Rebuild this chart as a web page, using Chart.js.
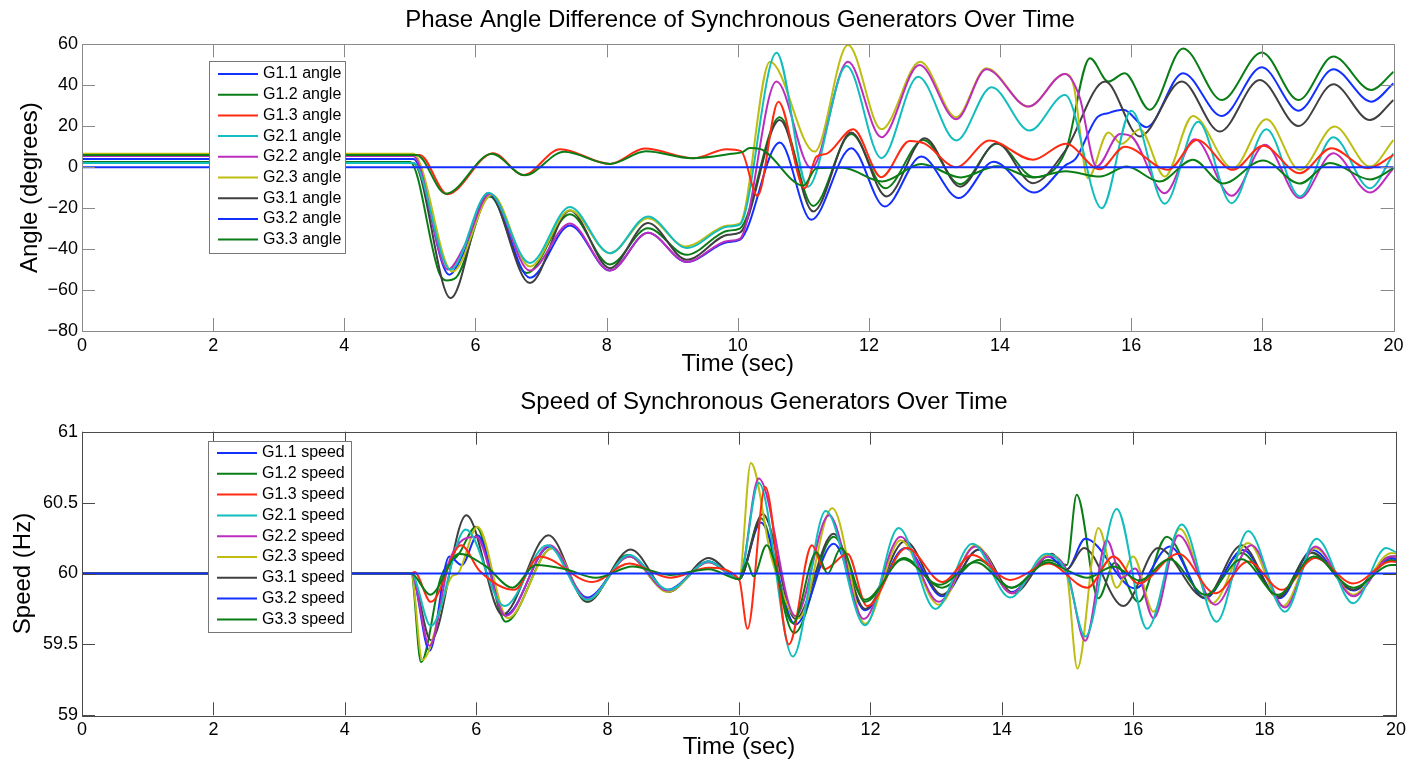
<!DOCTYPE html>
<html lang="en">
<head>
  <meta charset="UTF-8">
  <script src="https://cdn.jsdelivr.net/npm/chart.js"></script>
  <title>Synchronous generators</title>
  <style>
    html, body { margin: 0; padding: 0; background: #fff; overflow: hidden; }
    #angleChart { position: absolute; left: 0; top: 0; }
    #speedChart { position: absolute; left: 0; top: 380px; }
  </style>
</head>
<body>
  <canvas id="angleChart" width="1410" height="380"></canvas>
  <canvas id="speedChart" width="1410" height="385"></canvas>
  <script>
    // generator names (legend order)
    const generators = ['G1.1', 'G1.2', 'G1.3', 'G2.1', 'G2.2', 'G2.3', 'G3.1', 'G3.2', 'G3.3'];
    const xTicks = [0, 2, 4, 6, 8, 10, 12, 14, 16, 18, 20];
    const angleTicks = [-80, -60, -40, -20, 0, 20, 40, 60];
    const speedTicks = [59, 59.5, 60, 60.5, 61];

    // [time (s), angle (deg)]
    const g11Angle = [[0, 0], [20, 0]];
    const g12Angle = [[0, 6], [5.1, 6], [5.55, -13], [6.25, 6.5], [6.75, -4], [7.35, 7.5], [8.05, 1.6], [8.6, 7.8], [9.3, 4.4], [9.9, 6.5], [10.08, 7.5], [10.18, 9.4], [10.35, 8.8], [11.0, -9], [11.2, -0.5], [11.6, -0.3], [12.2, -7], [12.8, 1.5], [13.4, -5], [13.95, 0.5], [14.5, -5], [15.0, -2], [15.52, -4.6], [15.93, 0.3], [16.43, -7], [16.94, 3.6], [17.4, -8], [18.01, 3.3], [18.57, -8], [19.03, 2], [19.64, -6], [20, -0.5]];
    const g13Angle = [[0, 6], [5.15, 6], [5.57, -13.2], [6.27, 6.8], [6.73, -3.8], [7.29, 8.8], [8.05, 1.6], [8.58, 9.1], [9.33, 4.4], [9.83, 8.8], [10.05, 7.8], [10.3, -14], [10.62, 32], [11.02, -10.3], [11.2, 5.2], [11.35, 6.5], [11.76, 18.5], [12.19, -4.9], [12.62, 12.8], [12.85, 11.5], [13.33, 0], [13.84, 13], [14.5, 3.6], [15.0, 11.4], [15.52, -1], [15.9, 10], [16.56, -1.3], [17.0, 13.3], [17.55, -1.3], [18.01, 10.4], [18.57, -3], [19.05, 9.3], [19.61, -0.5], [20, 6]];
    const g21Angle = [[0, 2], [5.05, 2], [5.62, -50], [6.2, -12.5], [6.83, -46.8], [7.44, -19.5], [8.05, -42], [8.63, -24.1], [9.22, -39.5], [9.85, -29], [10.03, -28], [10.59, 55.9], [11.07, -9.5], [11.66, 49.4], [12.19, 4.4], [12.75, 44.2], [13.33, 13], [13.87, 39], [14.45, 17.9], [14.99, 35.2], [15.55, -20], [16.0, 27.6], [16.51, -17.9], [17.02, 22.2], [17.53, -17.6], [18.06, 18.5], [18.57, -14.3], [19.08, 14.6], [19.64, -10.3], [20, 6.8]];
    const g22Angle = [[0, 5.5], [5.05, 5.5], [5.58, -50], [5.84, -38], [6.22, -13], [6.83, -50.5], [7.44, -27.5], [8.05, -50.5], [8.63, -32], [9.22, -46.2], [9.85, -36], [10.03, -35], [10.59, 41.8], [11.12, -0.5], [11.68, 51.5], [12.19, 14.6], [12.77, 49.9], [13.33, 23.4], [13.79, 47.8], [14.43, 29.6], [14.99, 45.5], [15.21, 34.4], [15.47, 0.3], [15.83, 16.2], [16.0, 15], [16.51, -12.7], [16.97, 13.6], [17.53, -14], [18.04, 10.9], [18.57, -15.1], [19.08, 6.8], [19.64, -12.4], [20, -0.5]];
    const g23Angle = [[0, 6.5], [5.05, 6.5], [5.65, -51], [6.25, -13.5], [6.83, -48.5], [7.44, -21], [8.05, -42], [8.63, -25], [9.2, -38.7], [9.85, -28.5], [10.03, -27.5], [10.49, 51.5], [11.17, 7.6], [11.68, 59.7], [12.19, 18.5], [12.78, 51.5], [13.33, 24.4], [13.79, 48.3], [14.43, 29.6], [14.99, 45.5], [15.12, 40], [15.34, -5.4], [15.65, 16.9], [15.85, 11.4], [16.13, 18.5], [16.51, -4.6], [16.94, 25], [17.55, -0.5], [18.06, 23.4], [18.57, -1.3], [19.1, 19.8], [19.64, 0.3], [20, 13.3]];
    const g31Angle = [[0, 2], [5.05, 2], [5.62, -63.9], [6.19, -12.7], [6.83, -56.6], [7.44, -21.2], [8.05, -49.3], [8.63, -27.3], [9.22, -45.2], [9.85, -33], [10.03, -32], [10.64, 23], [11.15, -21.6], [11.73, 16.9], [12.27, -14.3], [12.85, 14.1], [13.39, -9.5], [13.95, 11.7], [14.5, -7.8], [15.0, 8.4], [15.6, 41.8], [16.13, 15], [16.77, 41.8], [17.35, 17.4], [17.96, 42.6], [18.55, 20.1], [19.08, 40.5], [19.64, 23], [20, 32.8]];
    const g32Angle = [[0, 4], [5.05, 4], [5.6, -52.5], [5.82, -42], [6.22, -14], [6.83, -54], [7.44, -28.5], [8.05, -50.5], [8.63, -32], [9.22, -46.3], [9.85, -36.5], [10.03, -35.5], [10.64, 12], [11.12, -25.7], [11.73, 9.3], [12.24, -19.2], [12.8, 5.2], [13.37, -15.1], [13.9, 2.7], [14.52, -12.4], [15.0, 1], [15.15, 4], [15.47, 23.9], [15.65, 26.4], [15.88, 28], [16.23, 19.5], [16.79, 45.9], [17.38, 25], [17.99, 48.8], [18.55, 27.6], [19.08, 47.8], [19.66, 32], [20, 41]];
    const g33Angle = [[0, 2.5], [5.0, 2.5], [5.45, -52], [5.56, -55.3], [5.7, -54], [6.22, -14.3], [6.78, -51.7], [7.44, -23], [8.05, -47.5], [8.63, -29.8], [9.22, -42.8], [9.85, -31], [10.03, -30], [10.64, 24.4], [11.15, -18.9], [11.73, 16.2], [12.25, -10.3], [12.83, 13.3], [13.39, -8.3], [13.95, 11.4], [14.52, -4.9], [15.0, 8], [15.37, 53.2], [15.65, 41.8], [15.9, 45.9], [16.28, 28], [16.79, 58], [17.38, 32.8], [17.99, 56], [18.55, 32.8], [19.08, 54], [19.66, 37.7], [20, 46.6]];

    // [time (s), speed (Hz)]
    const g11Speed = [[0, 60], [20, 60]];
    const g12Speed = [[0, 60], [5.01, 60], [5.3, 59.85], [5.74, 60.14], [6.15, 60.05], [6.55, 59.9], [6.91, 60.06], [7.36, 60.03], [7.82, 59.97], [8.38, 60.05], [8.95, 59.99], [9.54, 60.03], [10.0, 59.96], [10.12, 60.08], [10.22, 59.98], [10.42, 60.2], [10.82, 59.65], [11.18, 60.15], [11.35, 60.0], [11.55, 60.18], [11.92, 59.8], [12.5, 60.1], [13.05, 59.92], [13.6, 60.08], [14.15, 59.9], [14.71, 60.08], [15.0, 60.02], [15.3, 59.97], [15.7, 60.05], [16.1, 59.95], [16.55, 60.1], [17.1, 59.85], [17.65, 60.1], [18.2, 59.85], [18.75, 60.12], [19.35, 59.9], [19.93, 60.06], [20, 60.06]];
    const g13Speed = [[0, 60], [5.01, 60], [5.06, 60.01], [5.31, 59.8], [5.77, 60.2], [6.05, 60.02], [6.58, 59.885], [6.96, 60.12], [7.77, 59.94], [8.33, 60.07], [8.95, 59.97], [9.54, 60.04], [10.0, 59.96], [10.13, 59.61], [10.4, 60.61], [10.76, 59.5], [11.11, 60.2], [11.3, 60.03], [11.65, 60.14], [11.95, 59.77], [12.55, 60.18], [13.1, 59.94], [13.55, 60.13], [14.13, 59.955], [14.71, 60.07], [15.3, 59.9], [15.7, 60.12], [16.08, 59.93], [16.69, 60.14], [17.25, 59.86], [17.75, 60.085], [18.26, 59.885], [18.77, 60.11], [19.35, 59.93], [19.93, 60.085], [20, 60.08]];
    const g21Speed = [[0, 60], [5.01, 60], [5.31, 59.63], [5.84, 60.31], [6.43, 59.77], [7.08, 60.2], [7.69, 59.815], [8.33, 60.13], [8.93, 59.885], [9.54, 60.085], [10.0, 59.96], [10.3, 60.64], [10.82, 59.415], [11.32, 60.44], [11.92, 59.635], [12.43, 60.32], [12.99, 59.75], [13.55, 60.21], [14.13, 59.83], [14.68, 60.14], [14.99, 60.0], [15.27, 59.555], [15.75, 60.455], [16.21, 59.61], [16.74, 60.345], [17.27, 59.66], [17.75, 60.3], [18.31, 59.73], [18.79, 60.245], [19.35, 59.79], [19.85, 60.18], [20, 60.15]];
    const g22Speed = [[0, 60], [5.01, 60], [5.29, 59.49], [5.6, 60.1], [6.0, 60.26], [6.45, 59.7], [7.12, 60.2], [7.69, 59.82], [8.33, 60.12], [8.91, 59.88], [9.54, 60.08], [10.0, 59.96], [10.3, 60.67], [10.86, 59.7], [11.37, 60.41], [11.9, 59.68], [12.46, 60.26], [13.04, 59.8], [13.6, 60.19], [14.15, 59.86], [14.71, 60.12], [14.99, 60.02], [15.27, 59.525], [15.6, 60.235], [15.83, 59.97], [16.03, 60.035], [16.31, 59.685], [16.69, 60.27], [17.25, 59.78], [17.8, 60.2], [18.31, 59.76], [18.77, 60.19], [19.35, 59.84], [19.93, 60.12], [20, 60.12]];
    const g23Speed = [[0, 60], [5.01, 60], [5.18, 59.39], [5.63, 59.98], [5.72, 60.0], [6.02, 60.33], [6.48, 59.685], [7.16, 60.18], [7.69, 59.815], [8.33, 60.12], [8.91, 59.87], [9.54, 60.08], [10.0, 59.96], [10.18, 60.78], [10.5, 60.1], [10.91, 59.685], [11.42, 60.46], [11.92, 59.645], [12.46, 60.235], [13.04, 59.78], [13.6, 60.2], [14.15, 59.86], [14.71, 60.13], [14.99, 59.99], [15.15, 59.33], [15.47, 60.32], [15.75, 59.9], [16.0, 60.12], [16.31, 59.73], [16.71, 60.315], [17.2, 59.79], [17.75, 60.215], [18.28, 59.77], [18.77, 60.18], [19.35, 59.85], [19.93, 60.145], [20, 60.14]];
    const g31Speed = [[0, 60], [5.01, 60], [5.31, 59.53], [5.85, 60.41], [6.4, 59.71], [7.1, 60.27], [7.69, 59.8], [8.35, 60.17], [8.93, 59.87], [9.54, 60.11], [10.0, 59.96], [10.36, 60.42], [10.86, 59.68], [11.44, 60.28], [11.92, 59.75], [12.53, 60.23], [13.09, 59.85], [13.65, 60.17], [14.18, 59.86], [14.76, 60.14], [14.99, 60.03], [15.25, 60.18], [15.85, 59.77], [16.38, 60.18], [17.09, 59.83], [17.65, 60.2], [18.21, 59.83], [18.71, 60.15], [19.35, 59.885], [19.93, 60.12], [20, 60.12]];
    const g32Speed = [[0, 60], [5.01, 60], [5.29, 59.455], [5.59, 60.12], [5.78, 60.06], [6.02, 60.27], [6.45, 59.71], [7.12, 60.19], [7.69, 59.83], [8.33, 60.12], [8.91, 59.885], [9.54, 60.085], [10.0, 59.96], [10.33, 60.36], [10.86, 59.64], [11.44, 60.21], [11.92, 59.74], [12.53, 60.18], [13.09, 59.84], [13.65, 60.17], [14.15, 59.87], [14.71, 60.12], [14.99, 60.03], [15.27, 60.245], [16.03, 59.895], [16.56, 60.19], [17.09, 59.825], [17.67, 60.165], [18.23, 59.825], [18.73, 60.165], [19.35, 59.88], [19.93, 60.11], [20, 60.1]];
    const g33Speed = [[0, 60], [5.01, 60], [5.16, 59.375], [5.46, 59.97], [5.74, 60.14], [6.0, 60.33], [6.45, 59.66], [7.16, 60.18], [7.69, 59.8], [8.3, 60.13], [8.91, 59.875], [9.54, 60.085], [10.0, 59.96], [10.33, 60.39], [10.84, 59.58], [11.44, 60.26], [11.92, 59.815], [12.51, 60.11], [13.09, 59.9], [13.65, 60.095], [14.15, 59.9], [14.71, 60.095], [14.99, 60.06], [15.14, 60.555], [15.47, 59.825], [15.72, 60.075], [16.08, 59.8], [16.51, 60.26], [17.09, 59.825], [17.65, 60.145], [18.21, 59.84], [18.71, 60.145], [19.35, 59.885], [19.93, 60.095], [20, 60.09]];

    const angleSeries = [g11Angle, g12Angle, g13Angle, g21Angle, g22Angle, g23Angle, g31Angle, g32Angle, g33Angle];
    const speedSeries = [g11Speed, g12Speed, g13Speed, g21Speed, g22Speed, g23Speed, g31Speed, g32Speed, g33Speed];
    const colors = ['#1330ff', '#0a7d16', '#ff2a12', '#12bdbd', '#bd2dbd', '#bdbd12', '#404040', '#1330ff', '#0a7d16'];

    const FONT = '"Liberation Sans", Arial, Helvetica, sans-serif';
    Chart.defaults.font.family = FONT;
    Chart.defaults.color = '#000';

    // matlab style box: inward ticks on all four sides, title, legend inside the axes
    const boxPlugin = {
      id: 'matlabBox',
      afterDatasetsDraw(chart, args, opts) {
        const { ctx, chartArea: a, scales: { x, y } } = chart;
        ctx.save();
        ctx.strokeStyle = opts.color;
        ctx.lineWidth = 1;
        ctx.beginPath();
        x.ticks.forEach(t => {
          const px = Math.round(x.getPixelForValue(t.value)) + 0.5;
          ctx.moveTo(px, a.bottom); ctx.lineTo(px, a.bottom - 13);
          ctx.moveTo(px, a.top); ctx.lineTo(px, a.top + 13);
        });
        y.ticks.forEach(t => {
          const py = Math.round(y.getPixelForValue(t.value)) + 0.5;
          ctx.moveTo(a.left, py); ctx.lineTo(a.left + 13, py);
          ctx.moveTo(a.right, py); ctx.lineTo(a.right - 13, py);
        });
        ctx.stroke();
        ctx.strokeRect(Math.round(a.left) + 0.5, Math.round(a.top) + 0.5, Math.round(a.width), Math.round(a.height));

        // title
        ctx.fillStyle = '#000';
        ctx.font = '24px ' + FONT;
        ctx.textAlign = 'center';
        ctx.textBaseline = 'middle';
        ctx.fillText(opts.title.text, opts.title.x, opts.title.y);

        // legend
        const L = opts.legend;
        ctx.fillStyle = '#fff';
        ctx.fillRect(L.x, L.y, L.w, L.h);
        ctx.strokeStyle = '#777';
        ctx.strokeRect(L.x + 0.5, L.y + 0.5, L.w, L.h);
        ctx.font = '16px ' + FONT;
        ctx.textAlign = 'left';
        chart.data.datasets.forEach((ds, i) => {
          const ry = L.y + L.first + i * L.step;
          ctx.strokeStyle = ds.borderColor;
          ctx.lineWidth = 2;
          ctx.beginPath();
          ctx.moveTo(L.x + 9, ry); ctx.lineTo(L.x + 49, ry);
          ctx.stroke();
          ctx.fillStyle = '#000';
          ctx.fillText(ds.label, L.x + 54, ry);
        });
        ctx.restore();
      }
    };

    function makeChart(id, cfg) {
      return new Chart(document.getElementById(id), {
        type: 'line',
        data: {
          datasets: cfg.series.map((d, i) => ({
            label: generators[i] + ' ' + cfg.word,
            data: d,
            borderColor: colors[i],
            borderWidth: 2,
            pointRadius: 0,
            cubicInterpolationMode: 'monotone',
            fill: false
          }))
        },
        options: {
          responsive: false,
          animation: false,
          layout: { padding: { left: 0, right: cfg.padRight, top: cfg.padTop, bottom: 0 } },
          plugins: {
            legend: { display: false },
            tooltip: { enabled: false },
            title: { display: false },
            matlabBox: { color: cfg.boxColor, legend: cfg.legend, title: cfg.title }
          },
          scales: {
            x: {
              type: 'linear',
              min: 0,
              max: 20,
              afterBuildTicks: s => { s.ticks = xTicks.map(v => ({ value: v })); },
              afterFit: s => { s.height = cfg.xHeight; },
              ticks: { font: { size: 18 }, padding: 4, maxRotation: 0, autoSkip: false },
              grid: { display: false, drawTicks: false },
              border: { display: false },
              title: { display: true, text: 'Time (sec)', font: { size: 24 }, padding: { top: 0, bottom: cfg.xTitlePad } }
            },
            y: {
              min: cfg.yTicks[0],
              max: cfg.yTicks[cfg.yTicks.length - 1],
              afterBuildTicks: s => { s.ticks = cfg.yTicks.map(v => ({ value: v })); },
              afterFit: s => { s.width = 82; },
              ticks: {
                font: { size: 18 },
                padding: 4,
                callback: v => (v < 0 ? '\u2212' + Math.abs(v) : String(v))
              },
              grid: { display: false, drawTicks: false },
              border: { display: false },
              title: { display: true, text: cfg.yTitle, font: { size: 24 }, padding: { top: cfg.yTitlePad, bottom: 0 } }
            }
          }
        },
        plugins: [boxPlugin]
      });
    }

    makeChart('angleChart', {
      series: angleSeries,
      word: 'angle',
      title: { text: 'Phase Angle Difference of Synchronous Generators Over Time', x: 740, y: 20 },
      padTop: 44.3,
      yTitle: 'Angle (degrees)',
      yTitlePad: 15.6,
      yTicks: angleTicks,
      xHeight: 49,
      xTitlePad: 1.6,
      padRight: 16.4,
      boxColor: '#8a8a8a',
      legend: { x: 209, y: 61, w: 136, h: 192, first: 13, step: 20.7 }
    });

    makeChart('speedChart', {
      series: speedSeries,
      word: 'speed',
      title: { text: 'Speed of Synchronous Generators Over Time', x: 764, y: 22 },
      padTop: 51.7,
      yTitle: 'Speed (Hz)',
      yTitlePad: 8.6,
      yTicks: speedTicks,
      xHeight: 49.7,
      xTitlePad: 3.6,
      padRight: 12,
      boxColor: '#4a4a4a',
      legend: { x: 208, y: 61, w: 143, h: 191, first: 12, step: 20.8 }
    });
  </script>
</body>
</html>
